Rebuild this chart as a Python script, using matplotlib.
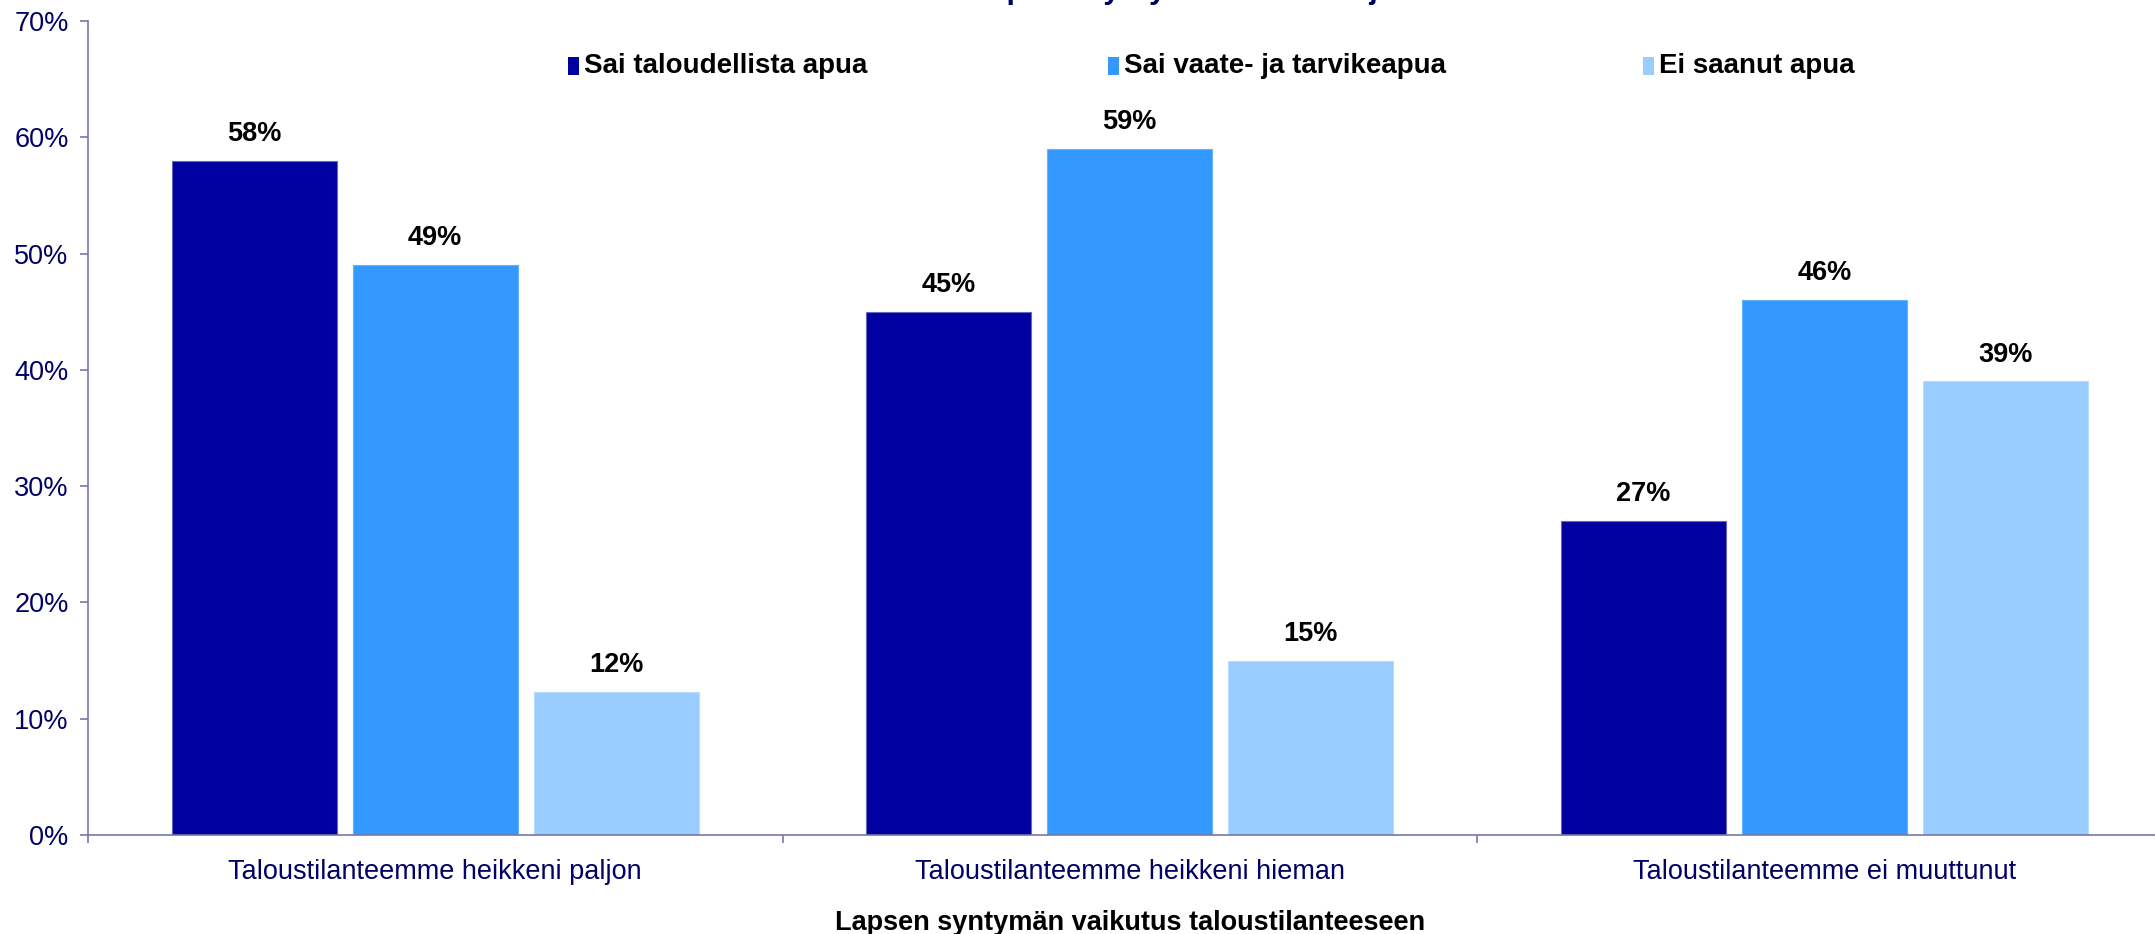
import numpy as np
import matplotlib.pyplot as plt
from matplotlib.patches import Rectangle

plt.rcParams["font.family"] = ["Liberation Sans", "DejaVu Sans"]

# data
categories = [
    "Taloustilanteemme heikkeni paljon",
    "Taloustilanteemme heikkeni hieman",
    "Taloustilanteemme ei muuttunut",
]
series_names = ["Sai taloudellista apua", "Sai vaate- ja tarvikeapua", "Ei saanut apua"]
financial_help = [58, 45, 27]
clothing_help = [49, 59, 46]
no_help = [12.3, 15, 39]
yticks = [0, 10, 20, 30, 40, 50, 60, 70]

title = "Tuki: Lapsen syntymän vaikutus ja tuki"
xlabel = "Lapsen syntymän vaikutus taloustilanteeseen"

colors = ["#0000A0", "#3399FF", "#99CCFF"]
edges = ["#6666C0", "#66B2FF", "#B8DCFF"]
navy = "#000066"
axis_col = "#7777A8"

W, H = 2155, 934
fig = plt.figure(figsize=(W / 100, H / 100), dpi=100)
ax = fig.add_axes([88 / W, 99 / H, 3 * 694.5 / W, 814 / H])

x = np.arange(len(categories))
bw = 165 / 694.5
step = 181 / 694.5
all_series = [financial_help, clothing_help, no_help]
for i, vals in enumerate(all_series):
    xs = x + (i - 1) * step
    bars = ax.bar(xs, vals, width=bw, color=colors[i], edgecolor=edges[i], lw=0.8, zorder=2)
    for b, v in zip(bars, vals):
        ax.annotate(f"{v:.0f}%", (b.get_x() + b.get_width() / 2, v),
                    xytext=(0, 10), textcoords="offset points",
                    ha="center", va="bottom", fontsize=19.5, fontweight="bold", color="black")

ax.set_xlim(-0.5, len(categories) - 0.5)
ax.set_ylim(0, 70)
ax.set_yticks(yticks)
ax.set_yticklabels([f"{t}%" for t in yticks])
ax.set_xticks(x)
ax.set_xticklabels(categories)
ax.set_xticks(np.arange(-0.5, len(categories)), minor=True)

for s in ["top", "right"]:
    ax.spines[s].set_visible(False)
for s in ["left", "bottom"]:
    ax.spines[s].set_color(axis_col)
    ax.spines[s].set_linewidth(1.2)

ax.tick_params(axis="y", direction="out", length=6, width=1.2, color=axis_col,
               labelsize=19.5, labelcolor=navy, pad=8)
ax.tick_params(axis="x", which="major", length=0, labelsize=19.5, labelcolor=navy, pad=17)
ax.tick_params(axis="x", which="minor", direction="out", length=6, width=1.2, color=axis_col)

ax.set_xlabel(xlabel, fontsize=19.5, fontweight="bold", color="black", labelpad=18)

# legend drawn by hand so each entry sits where the reference has it
leg_x = [568, 1108, 1643]
leg_y = 66
for c, name, lx in zip(colors, series_names, leg_x):
    fig.patches.append(Rectangle((lx / W, 1 - (leg_y + 9) / H), 11 / W, 18 / H,
                                 transform=fig.transFigure, facecolor=c, edgecolor="none"))
    fig.text((lx + 16) / W, 1 - leg_y / H, name, ha="left", va="center",
             fontsize=20, fontweight="bold", color="black")

# title is mostly cut off at the top edge in the reference
fig.text(1175 / W, 1 + 2.5 / H, title, ha="center", va="baseline",
         fontsize=22, fontweight="bold", color=navy)

fig.savefig("out.png", dpi=100)
